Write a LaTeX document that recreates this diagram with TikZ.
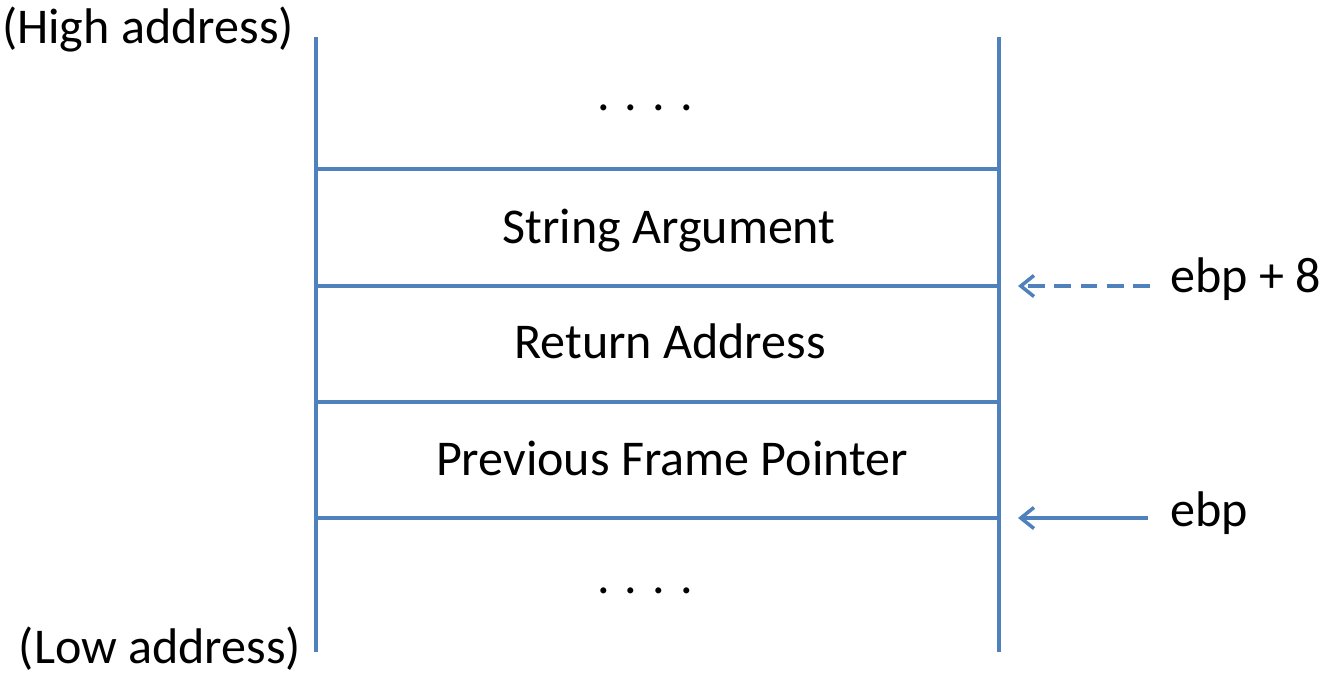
\documentclass[tikz,border=0pt]{standalone}
\usepackage{fontspec}
\setmainfont{Carlito}
\usetikzlibrary{arrows.meta}
\definecolor{stackblue}{HTML}{4F81BD}
\begin{document}
\begin{tikzpicture}[x=0.02cm, y=-0.02cm, line_style/.style={draw=stackblue, line width=2pt}, text_style/.style={font=\fontsize{28.5}{32}\selectfont, inner sep=0pt, anchor=base}, ptr_style/.style={draw=stackblue, line width=2pt, -{Straight Barb[length=7.5pt, width=12pt]}}]
      \useasboundingbox (0,0) rectangle (1325,673);
      \draw
        (316, 37) coordinate (lt)
        (316,652) coordinate (lb)
        (999, 37) coordinate (rt)
        (999,652) coordinate (rb)
        (316,169) coordinate (l1) (999,169) coordinate (r1)
        (316,286) coordinate (l2) (999,286) coordinate (r2)
        (316,402) coordinate (l3) (999,402) coordinate (r3)
        (316,518) coordinate (l4) (999,518) coordinate (r4)
        (1018,286) coordinate (p8)
        (1018,518) coordinate (p0);
      \draw
        (645,110) node[text_style] (top){.\hspace{0.3em}.\hspace{0.3em}.\hspace{0.3em}.}
        (669,243) node[text_style] (arg){String Argument}
        (670,358) node[text_style] (ret){Return Address}
        (672,475) node[text_style] (prev){Previous Frame Pointer}
        (645,593) node[text_style] (bot){.\hspace{0.3em}.\hspace{0.3em}.\hspace{0.3em}.}
        (148, 43) node[text_style] (high){(High address)}
        (160,663) node[text_style] (low){(Low address)}
        (1170,292) node[text_style, anchor=base west] (ebp8){ebp + 8}
        (1170,526) node[text_style, anchor=base west] (ebp){ebp};
      \draw[line_style] (lt) -- (lb);
      \draw[line_style] (rt) -- (rb);
      \draw[line_style] (l1) -- (r1);
      \draw[line_style] (l2) -- (r2);
      \draw[line_style] (l3) -- (r3);
      \draw[line_style] (l4) -- (r4);
      \begin{scope}[dash pattern=on 9.5pt off 5.5pt]
        \draw[ptr_style] (ebp8.west |- p8) ++(-20,0) -- (p8);
      \end{scope}
      \draw[ptr_style] (ebp.west |- p0) ++(-22,0) -- (p0);
    \end{tikzpicture}
\end{document}
